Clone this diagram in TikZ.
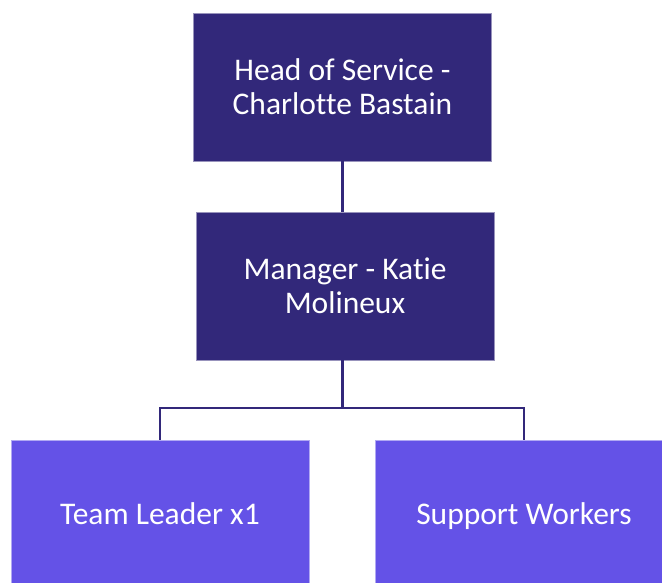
\documentclass[tikz,border=0pt]{standalone}
\usepackage{fontspec}
\setmainfont[Ligatures=NoCommon]{Carlito}
\definecolor{darkbox}{RGB}{50,40,122}
\definecolor{lightbox}{RGB}{100,82,231}

\begin{document}
\begin{tikzpicture}
				[x=1pt,y=-1pt,
				every node/.style={rectangle,minimum width=298pt,minimum height=148pt,inner sep=0pt,
					text=white,align=center,font=\fontsize{31.5}{34}\selectfont},
				head/.style={fill=darkbox,draw=darkbox!50!white,line width=0.6pt},
				staff/.style={fill=lightbox,draw=lightbox!50!white,line width=0.6pt,text height=24pt,text depth=4pt},
				link/.style={draw=darkbox,line width=2.6pt}]
				\useasboundingbox (0,0) rectangle (662,582);
				\clip (0,0) rectangle (662,582);
				\node[head] (hos) at (342.5,87)  {Head of Service -\\Charlotte Bastain};
				\node[head] (mgr) at (345,286)  {Manager - Katie\\Molineux};
				\node[staff] (lead) at (160,514)  {Team Leader x1};
				\node[staff] (sup) at (524,514)  {Support Workers};
				\coordinate (split) at (342.5,408);
				
				\draw[link] (hos.south -| split) -- (mgr.north -| split);
				\draw[link] (mgr.south -| split) -- (split);
				\draw[link] (lead.north) |- (split) -| (sup.north);
				\end{tikzpicture}
\end{document}
